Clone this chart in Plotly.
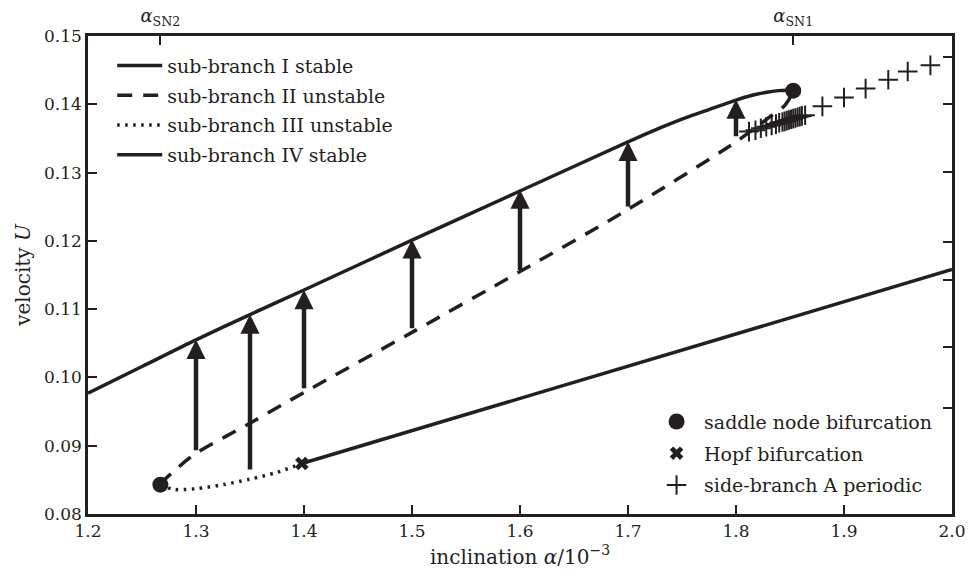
import plotly.graph_objects as go

INK = "#231f20"
FONT = "DejaVu Serif"

# sub-branch I (stable, upper solid)
b1_x = [1.20, 1.25, 1.30, 1.35, 1.40, 1.50, 1.60, 1.70, 1.72, 1.74, 1.76, 1.78, 1.80, 1.81, 1.82, 1.83, 1.84, 1.853]
b1_u = [0.0977, 0.1016, 0.1055, 0.1092, 0.1128, 0.1201, 0.1273, 0.1345, 0.1359, 0.1372, 0.1384, 0.1395, 0.1406, 0.1411, 0.1415, 0.1418, 0.1420, 0.1421]

# sub-branch II (unstable, dashed)
b2_x = [1.267, 1.272, 1.28, 1.29, 1.30, 1.35, 1.40, 1.50, 1.60, 1.70, 1.80, 1.83, 1.845, 1.853]
b2_u = [0.0843, 0.0852, 0.0863, 0.0877, 0.0889, 0.0933, 0.0978, 0.1066, 0.1155, 0.1246, 0.1345, 0.1380, 0.1398, 0.1418]

# sub-branch III (unstable, dotted)
b3_x = [1.267, 1.28, 1.30, 1.325, 1.35, 1.375, 1.398]
b3_u = [0.0842, 0.0836, 0.0837, 0.0843, 0.0851, 0.0861, 0.0874]

# sub-branch IV (stable, lower solid)
b4_x = [1.398, 1.50, 1.60, 1.70, 1.80, 1.90, 2.00]
b4_u = [0.0874, 0.0922, 0.0969, 0.1016, 0.1063, 0.1110, 0.1158]

# bifurcation points
sn_x = [1.267, 1.853]
sn_u = [0.0843, 0.1420]
hopf_x = [1.398]
hopf_u = [0.0874]

# side-branch A periodic
sa_x = [1.812, 1.818, 1.823, 1.828, 1.833, 1.837, 1.840, 1.843, 1.845, 1.847, 1.849,
        1.851, 1.853, 1.855, 1.857, 1.859, 1.861, 1.864,
        1.880, 1.900, 1.920, 1.941, 1.959, 1.980]
sa_u = [0.1360, 0.1362, 0.1365, 0.1367, 0.1369, 0.1371, 0.1373, 0.1374, 0.1375, 0.1376, 0.1377,
        0.1378, 0.1379, 0.1380, 0.1381, 0.1382, 0.1383, 0.1384,
        0.1397, 0.1410, 0.1423, 0.1436, 0.1448, 0.1457]

# jump arrows (from unstable branch up to sub-branch I)
arr_x = [1.30, 1.35, 1.40, 1.50, 1.60, 1.70, 1.80]
arr_tail = [0.0891, 0.0863, 0.0982, 0.1070, 0.1155, 0.1248, 0.1351]
arr_tip = [0.1055, 0.1092, 0.1128, 0.1202, 0.1275, 0.1345, 0.1407]

# top-axis labels and right-axis ticks
top_vals = [1.267, 1.853]
top_text = ["<i>α</i><sub>SN2</sub>", "<i>α</i><sub>SN1</sub>"]
right_ticks = [0.1469, 0.1400, 0.1301, 0.1199, 0.1142, 0.1045, 0.0955]

fig = go.Figure()
LW = 3.5
fig.add_trace(go.Scatter(x=b1_x, y=b1_u, mode="lines", name="sub-branch I stable",
                         line=dict(color=INK, width=LW, shape="spline", smoothing=0.8),
                         legend="legend", legendgroup="a"))
fig.add_trace(go.Scatter(x=b2_x, y=b2_u, mode="lines", name="sub-branch II unstable",
                         line=dict(color=INK, width=LW, dash="15px,11px", shape="spline", smoothing=0.8),
                         legend="legend", legendgroup="b"))
fig.add_trace(go.Scatter(x=b3_x, y=b3_u, mode="lines", name="sub-branch III unstable",
                         line=dict(color=INK, width=LW, dash="2.5px,5.5px", shape="spline", smoothing=0.8),
                         legend="legend", legendgroup="c"))
fig.add_trace(go.Scatter(x=b4_x, y=b4_u, mode="lines", name="sub-branch IV stable",
                         line=dict(color=INK, width=LW), legend="legend", legendgroup="d"))

fig.add_trace(go.Scatter(x=sn_x, y=sn_u, mode="markers", name="saddle node bifurcation",
                         marker=dict(symbol="circle", size=16, color=INK),
                         legend="legend2", legendgroup="e"))
fig.add_trace(go.Scatter(x=hopf_x, y=hopf_u, mode="markers", name="Hopf bifurcation",
                         marker=dict(symbol="x", size=12, color=INK, line=dict(width=0)),
                         legend="legend2", legendgroup="f"))
fig.add_trace(go.Scatter(x=sa_x, y=sa_u, mode="markers", name="side-branch A periodic",
                         marker=dict(symbol="cross-thin", size=14, line=dict(color=INK, width=2)),
                         legend="legend2", legendgroup="g"))

# invisible traces to activate top and right axes
fig.add_trace(go.Scatter(x=top_vals, y=[None, None], xaxis="x2", yaxis="y", showlegend=False, hoverinfo="skip"))
fig.add_trace(go.Scatter(x=[None], y=[None], xaxis="x", yaxis="y2", showlegend=False, hoverinfo="skip"))

for xa, t0, t1 in zip(arr_x, arr_tail, arr_tip):
    fig.add_annotation(x=xa, y=t1, ax=xa, ay=t0, xref="x", yref="y", axref="x", ayref="y",
                       text="", showarrow=True, arrowhead=2, arrowsize=0.85, arrowwidth=4.5,
                       arrowcolor=INK, standoff=0)

TICKF = dict(family=FONT, size=17, color=INK)
TITLEF = dict(family=FONT, size=20, color=INK)
LEGF = dict(family=FONT, size=19, color=INK)

axis_common = dict(showgrid=False, zeroline=False, linecolor=INK, linewidth=2.5, automargin=False,
                   ticks="inside", ticklen=9, tickwidth=1.5, tickcolor=INK, tickfont=TICKF)

fig.update_layout(
    width=968, height=575,
    margin=dict(l=88, r=16, t=36, b=61),
    paper_bgcolor="white", plot_bgcolor="white",
    font=dict(family=FONT, size=17, color=INK),
    xaxis=dict(range=[1.2, 2.0], tickvals=[1.2, 1.3, 1.4, 1.5, 1.6, 1.7, 1.8, 1.9, 2.0],
               tickformat=".1f", mirror=True,
               title=dict(text="inclination <i>α</i>/10<sup>−3</sup>", standoff=10, font=TITLEF),
               **axis_common),
    yaxis=dict(range=[0.08, 0.15], dtick=0.01, tickformat=".2f", mirror=True,
               title=dict(text="velocity <i>U</i>", standoff=8, font=TITLEF),
               **axis_common),
    xaxis2=dict(overlaying="x", side="top", range=[1.2, 2.0], tickvals=top_vals, ticktext=top_text,
                showgrid=False, zeroline=False, showline=False, ticks="inside", ticklen=9,
                tickwidth=1.5, tickcolor=INK, ticklabelstandoff=9, automargin=False,
                tickfont=dict(family=FONT, size=18, color=INK)),
    yaxis2=dict(overlaying="y", side="right", range=[0.08, 0.15], tickvals=right_ticks,
                showticklabels=False, showgrid=False, zeroline=False, showline=False, automargin=False,
                ticks="inside", ticklen=9, tickwidth=1.5, tickcolor=INK),
    legend=dict(x=0.028, y=0.9775, xanchor="left", yanchor="top", bgcolor="rgba(0,0,0,0)",
                tracegroupgap=2, font=LEGF, itemwidth=45),
    legend2=dict(x=0.9827, y=0.0195, xanchor="right", yanchor="bottom", bgcolor="rgba(0,0,0,0)",
                 tracegroupgap=4, font=LEGF, itemwidth=45),
    showlegend=True,
)

fig.write_html("out.html")
